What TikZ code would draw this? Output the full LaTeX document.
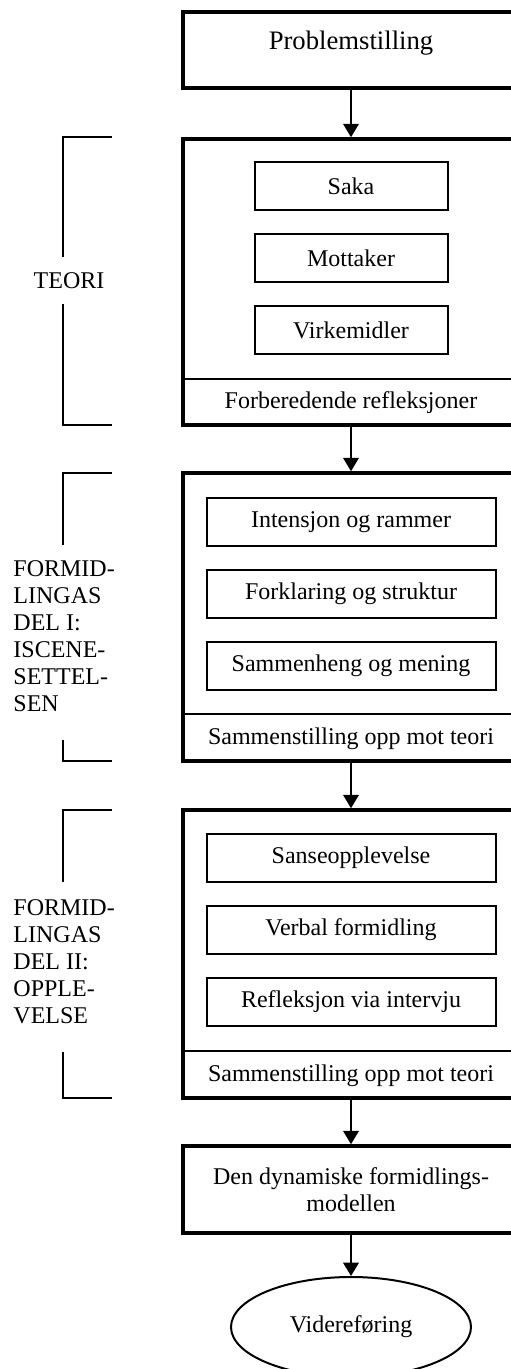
\documentclass[tikz,border=0pt]{standalone}
\usepackage{fontspec}
\setmainfont{Liberation Serif}
\usetikzlibrary{arrows.meta,shapes.geometric}
\newcommand{\px}{0.45pt}
\begin{document}
\begin{tikzpicture}[x=0.45pt,y=-0.45pt,
    font=\fontsize{10.8}{12.15}\selectfont,
    frame/.style={draw,line width=1.6pt,minimum width=336*\px,inner sep=0pt},
    item/.style={draw,line width=0.9pt,minimum height=48*\px,inner sep=0pt},
    foot/.style={inner sep=0pt,minimum width=336*\px,anchor=south},
    flow/.style={line width=0.8pt,-{Triangle[length=6pt,width=7pt]}},
    brace/.style={line width=0.7pt},
    sepline/.style={line width=0.8pt},
    side/.style={align=left,anchor=west,inner sep=0pt}]
    \useasboundingbox (0,0) rectangle (510,1369);
    % main column
    \node[frame,minimum height=76*\px,text depth=9pt,font=\fontsize{12}{13}\selectfont] (prob) at (351,50) {Problemstilling};
    \node[frame,minimum height=286*\px] (teori) at (351,282) {};
    \node[item,minimum width=193*\px] (saka) at (351,186) {Saka};
    \node[item,minimum width=193*\px] (mottaker) at (351,258) {Mottaker};
    \node[item,minimum width=193*\px] (virke) at (351,330) {Virkemidler};
    \node[foot,minimum height=47*\px] (forb) at (teori.south) {Forberedende refleksjoner};
    \draw[sepline] (forb.north -| teori.west) -- (forb.north -| teori.east);
    \node[frame,minimum height=288*\px] (iscene) at (351,617) {};
    \node[item,minimum width=289*\px] (intensjon) at (351,522) {Intensjon og rammer};
    \node[item,minimum width=289*\px] (forklaring) at (351,594) {Forklaring og struktur};
    \node[item,minimum width=289*\px] (sammenheng) at (351,666) {Sammenheng og mening};
    \node[foot,minimum height=48*\px] (samI) at (iscene.south) {Sammenstilling opp mot teori};
    \draw[sepline] (samI.north -| iscene.west) -- (samI.north -| iscene.east);
    \node[frame,minimum height=288*\px] (opple) at (351,954) {};
    \node[item,minimum width=289*\px] (sanse) at (351,858) {Sanseopplevelse};
    \node[item,minimum width=289*\px] (verbal) at (351,930) {Verbal formidling};
    \node[item,minimum width=289*\px] (refleks) at (351,1002) {Refleksjon via intervju};
    \node[foot,minimum height=48*\px] (samII) at (opple.south) {Sammenstilling opp mot teori};
    \draw[sepline] (samII.north -| opple.west) -- (samII.north -| opple.east);
    \node[frame,minimum height=87*\px,align=center] (modell) at (351,1189.5) {Den dynamiske formidlings-\\modellen};
    \node[draw,ellipse,line width=0.9pt,minimum width=240*\px,minimum height=100*\px,inner sep=0pt] (videre) at (351,1327) {Videreføring};
    \draw[flow] (prob) -- (teori);
    \draw[flow] (teori) -- (iscene);
    \draw[flow] (iscene) -- (opple);
    \draw[flow] (opple) -- (modell);
    \draw[flow] (modell) -- (videre);
    % side labels and brackets
    \node[inner sep=0pt] (teoriTxt) at (69,281) {TEORI};
    \draw[brace] (112,137) -- (63,137) -- (63,257);
    \draw[brace] (63,304) -- (63,425) -- (112,425);
    \node[side] (delI) at (13,636) {FORMID-\\LINGAS\\DEL I:\\ISCENE-\\SETTEL-\\SEN};
    \draw[brace] (112,473) -- (63,473) -- (63,545);
    \draw[brace] (63,740) -- (63,761) -- (112,761);
    \node[side] (delII) at (13,962) {FORMID-\\LINGAS\\DEL II:\\OPPLE-\\VELSE};
    \draw[brace] (112,810) -- (63,810) -- (63,882);
    \draw[brace] (63,1052) -- (63,1098) -- (112,1098);
\end{tikzpicture}
\end{document}
